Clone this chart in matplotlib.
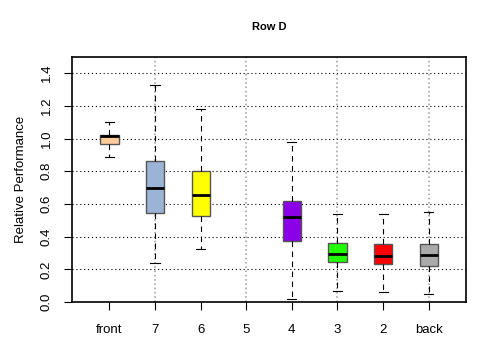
import matplotlib
matplotlib.use("Agg")
import matplotlib.pyplot as plt

plt.rcParams['font.family'] = ['Liberation Sans', 'DejaVu Sans']

# Row D seats, front to back (seat 5 has no data)
labels = ["front", "7", "6", "5", "4", "3", "2", "back"]
whislo = [0.89, 0.241, 0.325, None, 0.02, 0.067, 0.059, 0.051]
q1 = [0.969, 0.542, 0.528, None, 0.376, 0.243, 0.231, 0.218]
med = [1.014, 0.697, 0.654, None, 0.519, 0.294, 0.282, 0.29]
q3 = [1.022, 0.863, 0.804, None, 0.62, 0.362, 0.358, 0.353]
whishi = [1.104, 1.329, 1.182, None, 0.979, 0.54, 0.54, 0.552]
colors = ["#FFCC99", "#9BB4D6", "#FFFF00", None, "#8B00E6", "#22FF00", "#FF0000", "#AAAAAA"]

fig = plt.figure(figsize=(4.8, 3.6), dpi=100)
ax = fig.add_axes([0.15, 0.161, 0.821, 0.681])

# grid first so boxes sit on top
for y in [0.2, 0.4, 0.6, 0.8, 1.0, 1.2, 1.4]:
    ax.axhline(y, color="black", lw=0.8, ls=(0, (1, 2.5)), zorder=0)
for x in [2, 4, 6, 8]:
    ax.axvline(x, color="#999999", lw=1.1, ls=(0, (1, 1.8)), zorder=0)

stats, pos, cols = [], [], []
for i, lab in enumerate(labels):
    if med[i] is None:
        continue
    stats.append(dict(label=lab, whislo=whislo[i], q1=q1[i], med=med[i],
                      q3=q3[i], whishi=whishi[i], fliers=[]))
    pos.append(i + 1)
    cols.append(colors[i])

bp = ax.bxp(stats, positions=pos, widths=0.4, patch_artist=True,
            showfliers=False, capwidths=0.2,
            boxprops=dict(edgecolor="#555555", linewidth=1.0),
            medianprops=dict(color="black", linewidth=2.0),
            whiskerprops=dict(color="black", linewidth=0.8, linestyle=(0, (5, 4))),
            capprops=dict(color="black", linewidth=0.8))
for patch, c in zip(bp["boxes"], cols):
    patch.set_facecolor(c)
    patch.set_zorder(2)

ax.set_xlim(0.18, 8.82)
ax.set_ylim(0, 1.5)
ax.set_xticks(range(1, len(labels) + 1))
ax.set_xticklabels(labels)
ax.set_yticks([0.0, 0.2, 0.4, 0.6, 0.8, 1.0, 1.2, 1.4])
ax.set_yticklabels(["0.0", "0.2", "0.4", "0.6", "0.8", "1.0", "1.2", "1.4"],
                   rotation=90, va="center")
ax.tick_params(axis="both", labelsize=9.5, length=6, width=0.8, pad=8)
ax.tick_params(axis="x", pad=10)
for s in ax.spines.values():
    s.set_linewidth(1.2)
ax.set_ylabel("Relative Performance", fontsize=9.5, labelpad=10)
ax.set_title("Row D", fontsize=8, fontweight="bold", pad=19)

fig.savefig("out.png", dpi=100)
